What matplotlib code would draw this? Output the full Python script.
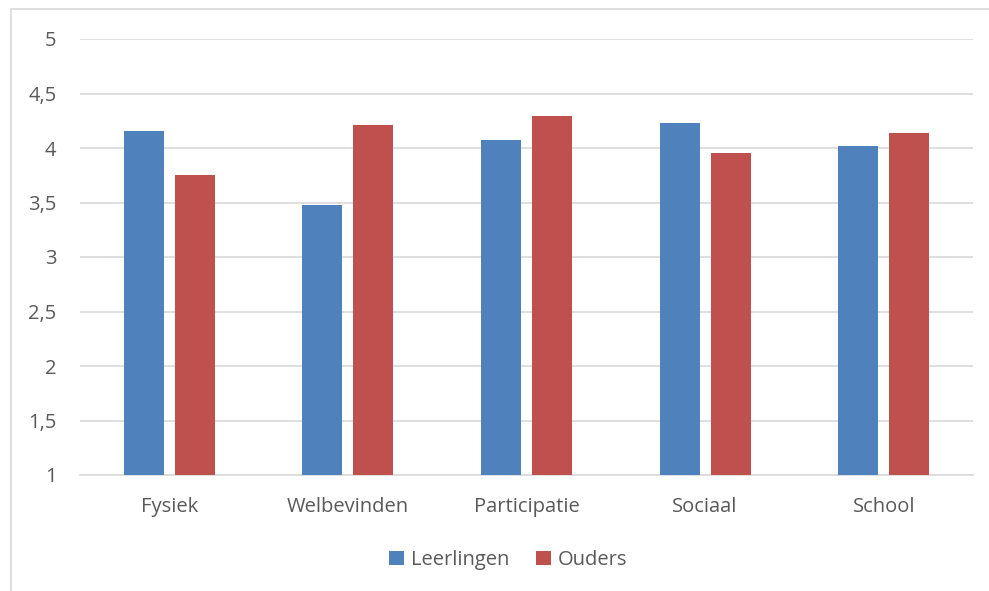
import matplotlib.pyplot as plt
from matplotlib.patches import Rectangle
import numpy as np

BLUE = "#4f81bd"
RED = "#c0504d"
GRID = "#d9d9d9"
TEXT = "#595959"

categories = ["Fysiek", "Welbevinden", "Participatie", "Sociaal", "School"]
leerlingen = [4.16, 3.48, 4.07, 4.23, 4.02]
ouders = [3.75, 4.21, 4.29, 3.95, 4.14]
yticks = [1, 1.5, 2, 2.5, 3, 3.5, 4, 4.5, 5]
ytick_labels = ["1", "1,5", "2", "2,5", "3", "3,5", "4", "4,5", "5"]

plt.rcParams["font.family"] = ["Open Sans", "DejaVu Sans"]

W, H = 989, 591
fig = plt.figure(figsize=(W / 100, H / 100), dpi=100)
fig.patch.set_facecolor("white")

# chart frame (left and top edge visible)
fig.add_artist(Rectangle((11 / W, -0.1), 1.2, (H - 9) / H + 0.1,
                         transform=fig.transFigure, fill=False,
                         edgecolor=GRID, linewidth=1.2))

ax = fig.add_axes([80 / W, 116 / H, (973 - 80) / W, (475 - 39) / H])

x = np.arange(len(categories))
bw = 0.224
gap = 0.062
ax.bar(x - (bw + gap) / 2, [v - 1 for v in leerlingen], bw, bottom=1,
       color=BLUE, label="Leerlingen", zorder=3)
ax.bar(x + (bw + gap) / 2, [v - 1 for v in ouders], bw, bottom=1,
       color=RED, label="Ouders", zorder=3)

ax.set_xlim(-0.5, len(categories) - 0.5)
ax.set_ylim(1, 5)
ax.set_yticks(yticks)
ax.set_yticklabels(ytick_labels)
ax.set_xticks(x)
ax.set_xticklabels(categories)
ax.grid(axis="y", color=GRID, linewidth=1.2, zorder=0)
ax.set_axisbelow(True)
for s in ["top", "right", "left"]:
    ax.spines[s].set_visible(False)
ax.spines["bottom"].set_color(GRID)
ax.spines["bottom"].set_linewidth(1.2)
ax.tick_params(length=0, labelsize=14.5, colors=TEXT)
ax.tick_params(axis="y", pad=17)
ax.tick_params(axis="x", pad=16)

ax.legend(loc="center", bbox_to_anchor=(508 / W, (H - 560) / H),
          bbox_transform=fig.transFigure, ncol=2, frameon=False,
          fontsize=14.5, labelcolor=TEXT, handlelength=0.75, handleheight=0.75,
          handletextpad=0.35, columnspacing=1.3)

fig.savefig("out.png", dpi=100)
